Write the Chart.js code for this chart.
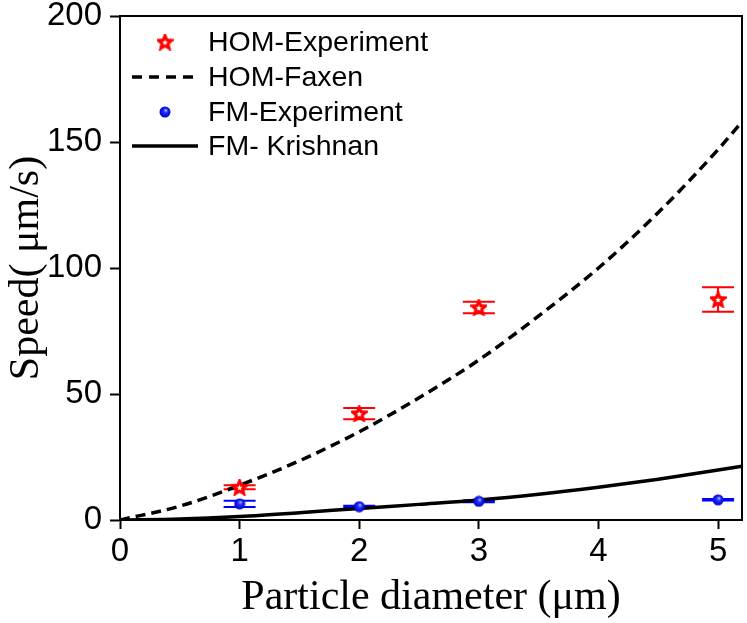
<!DOCTYPE html>
<html>
<head>
<meta charset="utf-8">
<script src="https://cdn.jsdelivr.net/npm/chart.js@4/dist/chart.umd.min.js"></script>
<style>
html,body{margin:0;padding:0;background:#fff;}
#wrap{width:747px;height:623px;}
</style>
</head>
<body>
<div id="wrap"><canvas id="c" width="747" height="623"></canvas></div>
<script>
// ---- data ----
const homExpX = [1, 2, 3, 5];
const homExpY = [13.0, 42.2, 84.3, 87.5];
const homExpErr = [0.8, 2.2, 2.3, 4.9];

const fmExpX = [1, 2, 3, 5];
const fmExpY = [6.4, 5.3, 7.4, 8.0];
const fmExpErr = [1.2, 0.4, 0.4, 0.3];

const faxenX = [0, 0.5, 1, 1.5, 2, 2.5, 3, 3.5, 4, 4.5, 5, 5.2];
const faxenY = [0, 5.5, 13.8, 23.5, 35, 48.5, 63.5, 81, 100, 122, 147, 158];

const krishX = [0, 0.5, 1, 1.5, 2, 2.5, 3, 3.5, 4, 4.5, 5, 5.2];
const krishY = [0, 0.4, 1.4, 2.9, 4.6, 6.2, 7.9, 10.2, 13, 16.2, 19.8, 21.3];

const xTicks = [0, 1, 2, 3, 4, 5];
const yTicks = [0, 50, 100, 150, 200];

const labels = ['HOM-Experiment', 'HOM-Faxen', 'FM-Experiment', 'FM- Krishnan'];

// ---- marker images ----
function makeStar(size){
  const c = document.createElement('canvas');
  c.width = size; c.height = size;
  const g = c.getContext('2d');
  const cx = size/2, cy = size/2 + 0.6, R = size/2 - 1.5, r = R*0.45;
  g.beginPath();
  for (let i = 0; i < 10; i++) {
    const a = -Math.PI/2 + i*Math.PI/5;
    const rr = (i % 2 === 0) ? R : r;
    const px = cx + rr*Math.cos(a), py = cy + rr*Math.sin(a);
    if (i === 0) g.moveTo(px, py); else g.lineTo(px, py);
  }
  g.closePath();
  g.fillStyle = '#ffffff';
  g.fill();
  g.lineWidth = 3;
  g.strokeStyle = '#ff0000';
  g.lineJoin = 'miter';
  g.stroke();
  return c;
}
function makeBall(size){
  const c = document.createElement('canvas');
  c.width = size; c.height = size;
  const g = c.getContext('2d');
  const cx = size/2, cy = size/2, R = size/2 - 0.5;
  const grad = g.createRadialGradient(cx+1, cy-1.8, 0.5, cx, cy, R);
  grad.addColorStop(0, '#9fa8ff');
  grad.addColorStop(0.35, '#1f2cff');
  grad.addColorStop(1, '#0000c8');
  g.beginPath(); g.arc(cx, cy, R, 0, Math.PI*2);
  g.fillStyle = grad; g.fill();
  return c;
}
const starImg = makeStar(17);
const ballImg = makeBall(12);

function pts(xs, ys){ return xs.map((x, i) => ({x: x, y: ys[i]})); }

// ---- plugins ----
const errorBars = {
  id: 'errorBars',
  beforeDatasetsDraw(chart){
    const ctx = chart.ctx, xs = chart.scales.x, ys = chart.scales.y;
    const sets = [
      {x: homExpX, y: homExpY, e: homExpErr, color: '#ff0000'},
      {x: fmExpX, y: fmExpY, e: fmExpErr, color: '#0000ff'}
    ];
    ctx.save();
    ctx.lineWidth = 2;
    sets.forEach(s => {
      ctx.strokeStyle = s.color;
      s.x.forEach((xv, i) => {
        const px = xs.getPixelForValue(xv);
        const top = ys.getPixelForValue(s.y[i] + s.e[i]);
        const bot = ys.getPixelForValue(s.y[i] - s.e[i]);
        ctx.beginPath();
        ctx.moveTo(px, top); ctx.lineTo(px, bot);
        ctx.moveTo(px - 16, top); ctx.lineTo(px + 16, top);
        ctx.moveTo(px - 16, bot); ctx.lineTo(px + 16, bot);
        ctx.stroke();
      });
    });
    ctx.restore();
  }
};

const frame = {
  id: 'frame',
  afterDraw(chart){
    const {ctx, chartArea: a} = chart;
    ctx.save();
    ctx.strokeStyle = '#000';
    ctx.lineWidth = 2;
    ctx.beginPath();
    ctx.moveTo(a.left, a.top); ctx.lineTo(a.right, a.top); ctx.lineTo(a.right, a.bottom);
    ctx.stroke();
    ctx.restore();
  }
};

const legendBox = {
  id: 'legendBox',
  afterDraw(chart){
    const {ctx, chartArea: a} = chart;
    const x0 = a.left + 12, x1 = a.left + 78, xm = a.left + 45, tx = a.left + 88;
    const rows = [a.top + 26, a.top + 61, a.top + 96, a.top + 130];
    ctx.save();
    ctx.font = '28.5px "Liberation Sans", Arial, sans-serif';
    ctx.fillStyle = '#000';
    ctx.textBaseline = 'middle';
    ctx.textAlign = 'left';
    ctx.drawImage(starImg, xm - 8.5, rows[0] - 8.5);
    ctx.strokeStyle = '#000'; ctx.lineWidth = 3.5; ctx.setLineDash([10, 7]);
    ctx.beginPath(); ctx.moveTo(x0, rows[1]); ctx.lineTo(x1, rows[1]); ctx.stroke();
    ctx.setLineDash([]);
    ctx.drawImage(ballImg, xm - 6, rows[2] - 6);
    ctx.beginPath(); ctx.moveTo(x0, rows[3]); ctx.lineTo(x1, rows[3]); ctx.stroke();
    labels.forEach((t, i) => ctx.fillText(t, tx, rows[i] + 1));
    ctx.restore();
  }
};

// ---- chart ----
const tickFont = {family: '"Liberation Sans", Arial, sans-serif', size: 33};
const titleFont = {family: '"Liberation Serif", "Times New Roman", serif', size: 42};

new Chart(document.getElementById('c'), {
  type: 'scatter',
  data: {
    datasets: [
      {label: labels[0], data: pts(homExpX, homExpY), pointStyle: starImg, showLine: false, order: 0},
      {label: labels[1], data: pts(faxenX, faxenY), showLine: true, borderColor: '#000', borderWidth: 3.5,
       borderDash: [10, 6], pointRadius: 0, cubicInterpolationMode: 'monotone', order: 2},
      {label: labels[2], data: pts(fmExpX, fmExpY), pointStyle: ballImg, showLine: false, order: 0},
      {label: labels[3], data: pts(krishX, krishY), showLine: true, borderColor: '#000', borderWidth: 3.5,
       pointRadius: 0, cubicInterpolationMode: 'monotone', order: 2}
    ]
  },
  options: {
    responsive: false,
    animation: false,
    events: [],
    layout: {padding: {top: 16, right: 3, left: 0, bottom: 0}},
    plugins: {legend: {display: false}, tooltip: {enabled: false}},
    scales: {
      x: {
        type: 'linear', min: 0, max: 5.2,
        afterBuildTicks: s => { s.ticks = xTicks.map(v => ({value: v})); },
        afterFit: s => { s.height = 103; s.paddingLeft = 0; s.paddingRight = 0; },
        ticks: {font: tickFont, color: '#000', padding: 3, maxRotation: 0},
        grid: {drawOnChartArea: false, drawTicks: true, tickLength: 9, tickWidth: 2, tickColor: '#000'},
        border: {display: true, color: '#000', width: 2},
        title: {display: true, text: 'Particle diameter (μm)', font: titleFont, color: '#000', padding: {top: 0, bottom: 0}}
      },
      y: {
        type: 'linear', min: 0, max: 200,
        afterBuildTicks: s => { s.ticks = yTicks.map(v => ({value: v})); },
        afterFit: s => { s.width = 120; s.paddingTop = 0; s.paddingBottom = 0; },
        ticks: {font: tickFont, color: '#000', padding: 8},
        grid: {drawOnChartArea: false, drawTicks: true, tickLength: 10, tickWidth: 2, tickColor: '#000'},
        border: {display: true, color: '#000', width: 2},
        title: {display: true, text: 'Speed( μm/s)', font: titleFont, color: '#000', padding: {top: 2, bottom: 0}}
      }
    }
  },
  plugins: [errorBars, frame, legendBox]
});
</script>
</body>
</html>
